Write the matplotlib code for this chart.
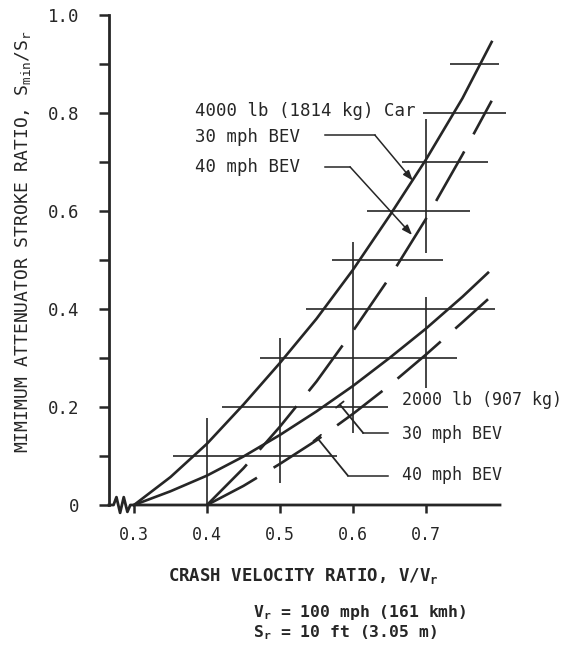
import matplotlib
matplotlib.use('Agg')
import matplotlib.pyplot as plt

plt.rcParams['font.family'] = ['DejaVu Sans Mono']
plt.rcParams['mathtext.fontset'] = 'custom'
plt.rcParams['mathtext.rm'] = 'DejaVu Sans Mono'
plt.rcParams['mathtext.bf'] = 'DejaVu Sans Mono:bold'
plt.rcParams['lines.scale_dashes'] = False

INK = '#262626'

# 4000 lb (1814 kg) car
car30_x = [0.30, 0.35, 0.40, 0.45, 0.50, 0.55, 0.60, 0.65, 0.70, 0.75, 0.79]
car30_y = [0.0, 0.057, 0.125, 0.205, 0.290, 0.38, 0.48, 0.59, 0.705, 0.83, 0.945]
car40_x = [0.40, 0.45, 0.50, 0.55, 0.60, 0.65, 0.70, 0.75, 0.79]
car40_y = [0.0, 0.075, 0.16, 0.252, 0.355, 0.464, 0.584, 0.715, 0.825]

# 2000 lb (907 kg) car
small30_x = [0.30, 0.35, 0.40, 0.45, 0.50, 0.55, 0.60, 0.65, 0.70, 0.75, 0.785]
small30_y = [0.0, 0.028, 0.06, 0.099, 0.143, 0.191, 0.243, 0.30, 0.36, 0.425, 0.474]
small40_x = [0.40, 0.45, 0.50, 0.55, 0.60, 0.65, 0.70, 0.75, 0.785]
small40_y = [0.0, 0.039, 0.084, 0.132, 0.186, 0.244, 0.307, 0.373, 0.42]

# range bars drawn across the curves
bar_x = [0.40, 0.50, 0.60, 0.70, 0.70]
bar_lo = [0.0, 0.045, 0.147, 0.514, 0.239]
bar_hi = [0.178, 0.341, 0.537, 0.788, 0.425]
level_y = [0.1, 0.2, 0.3, 0.4, 0.5, 0.6, 0.7, 0.8, 0.9]
level_lo = [0.353, 0.42, 0.473, 0.536, 0.571, 0.619, 0.667, 0.696, 0.733]
level_hi = [0.578, 0.648, 0.742, 0.795, 0.723, 0.76, 0.785, 0.81, 0.80]

x_ticks = [0.3, 0.4, 0.5, 0.6, 0.7]
x_labels = ['0.3', '0.4', '0.5', '0.6', '0.7']
y_ticks = [0, 0.2, 0.4, 0.6, 0.8, 1.0]
y_labels = ['0', '0.2', '0.4', '0.6', '0.8', '1.0']
y_minor = [0.1, 0.3, 0.5, 0.7, 0.9]

# axis break on the x axis
break_x = [0.2658, 0.272, 0.276, 0.281, 0.286, 0.291, 0.295, 0.8014]
break_y = [0, 0, 0.016, -0.016, 0.016, -0.014, 0, 0]

fig = plt.figure(figsize=(5.62, 6.46), dpi=100)
ax = fig.add_axes([109 / 562, 1 - 505 / 646, 391 / 562, 490 / 646])
ax.set_xlim(0.2658, 0.8014)
ax.set_ylim(0, 1.0)

dash = (41, 14)
ax.plot(car30_x, car30_y, color=INK, lw=1.9, clip_on=False)
ax.plot(car40_x, car40_y, color=INK, lw=1.9, dashes=dash, clip_on=False)
ax.plot(small30_x, small30_y, color=INK, lw=1.9, clip_on=False)
ax.plot(small40_x, small40_y, color=INK, lw=1.9, dashes=dash, clip_on=False)

ax.vlines(bar_x, bar_lo, bar_hi, color=INK, lw=1.2, clip_on=False)
ax.hlines(level_y, level_lo, level_hi, color=INK, lw=1.2, clip_on=False)

# axes frame
for side in ['top', 'right', 'bottom']:
    ax.spines[side].set_visible(False)
ax.spines['left'].set_linewidth(2)
ax.spines['left'].set_color(INK)
ax.plot(break_x, break_y, color=INK, lw=2, clip_on=False)

ax.set_xticks(x_ticks)
ax.set_xticklabels(x_labels)
ax.set_yticks(y_ticks)
ax.set_yticklabels(y_labels)
ax.set_yticks(y_minor, minor=True)
ax.tick_params(axis='x', direction='out', length=6, width=1.8, pad=9,
               labelsize=12, colors=INK)
ax.tick_params(axis='y', which='both', direction='out', length=7, width=1.8,
               pad=14, labelsize=12.5, colors=INK)

# labels for the heavy car
ax.text(0.383, 0.804, '4000 lb (1814 kg) Car', fontsize=12.5, color=INK, va='center')
ax.text(0.383, 0.751, '30 mph BEV', fontsize=12.5, color=INK, va='center')
ax.text(0.383, 0.690, '40 mph BEV', fontsize=12.5, color=INK, va='center')
ax.plot([0.562, 0.630], [0.755, 0.755], color=INK, lw=1.1)
ax.plot([0.562, 0.596], [0.690, 0.690], color=INK, lw=1.1)
arrow = dict(arrowstyle='-|>,head_length=0.6,head_width=0.22', color=INK,
             lw=1.1, shrinkA=0, shrinkB=0)
ax.annotate('', xy=(0.682, 0.662), xytext=(0.630, 0.755), arrowprops=arrow)
ax.annotate('', xy=(0.681, 0.551), xytext=(0.596, 0.690), arrowprops=arrow)

# labels for the light car
ax.text(0.667, 0.214, '2000 lb (907 kg)', fontsize=12, color=INK, va='center')
ax.text(0.667, 0.145, '30 mph BEV', fontsize=12, color=INK, va='center')
ax.text(0.667, 0.061, '40 mph BEV', fontsize=12, color=INK, va='center')
ax.plot([0.614, 0.648], [0.147, 0.147], color=INK, lw=1.1)
ax.plot([0.593, 0.648], [0.060, 0.060], color=INK, lw=1.1)
tee = dict(arrowstyle='-[,widthB=0.35,lengthB=0', color=INK, lw=1.3,
           shrinkA=0, shrinkB=0)
ax.annotate('', xy=(0.582, 0.205), xytext=(0.614, 0.147), arrowprops=tee)
ax.annotate('', xy=(0.551, 0.137), xytext=(0.593, 0.060), arrowprops=tee)

fig.text(23 / 562, 1 - 242 / 646,
         r'MIMIMUM ATTENUATOR STROKE RATIO, S$_\mathrm{min}$/S$_\mathrm{r}$',
         rotation=90, ha='center', va='center', fontsize=13, color=INK)
fig.text(303 / 562, 1 - 576 / 646, r'CRASH VELOCITY RATIO, V/V$_\mathbf{r}$',
         ha='center', va='center', fontsize=12.5, fontweight='bold', color=INK)
fig.text(253 / 562, 1 - 612 / 646, r'V$_\mathbf{r}$ = 100 mph (161 kmh)',
         ha='left', va='center', fontsize=11.8, fontweight='bold', color=INK)
fig.text(253 / 562, 1 - 633 / 646, r'S$_\mathbf{r}$ = 10 ft (3.05 m)',
         ha='left', va='center', fontsize=11.8, fontweight='bold', color=INK)

plt.savefig('out.png', dpi=100)
plt.close(fig)
